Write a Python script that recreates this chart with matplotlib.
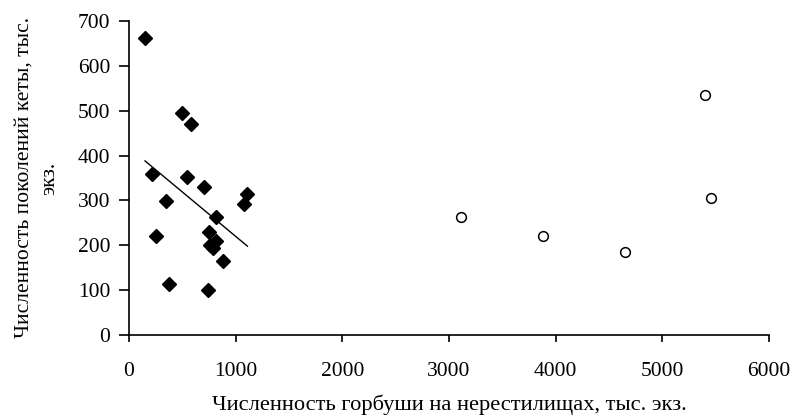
import numpy as np
import matplotlib.pyplot as plt

plt.rcParams['font.family'] = ['Liberation Serif', 'DejaVu Serif']

# pink salmon on spawning grounds vs chum generation size
x_fill = [150, 493, 577, 218, 545, 701, 1110, 1082, 346, 820,
          752, 755, 785, 820, 252, 882, 371, 736]
y_fill = [663, 494, 471, 358, 352, 329, 314, 291, 298, 262,
          229, 200, 195, 210, 221, 165, 113, 101]

x_open = [3115, 3880, 4647, 5401, 5457]
y_open = [262, 221, 184, 534, 305]

# trend line endpoints
x_trend = [150, 1110]
y_trend = [388, 198]

fig = plt.figure(figsize=(7.95, 4.16), dpi=100)
ax = fig.add_axes([0.1623, 0.1947, 0.805, 0.755])

ax.plot(x_fill, y_fill, ls='none', marker='D', ms=7.5, c='black')
ax.plot(x_open, y_open, ls='none', marker='o', ms=7, mfc='white',
        mec='black', mew=1.1)
ax.plot(x_trend, y_trend, c='black', lw=1)

ax.set_xlim(0, 6000)
ax.set_ylim(0, 700)
ax.set_xticks(range(0, 6001, 1000))
ax.set_yticks(range(0, 701, 100))
for s in ['top', 'right']:
    ax.spines[s].set_visible(False)
for s in ['left', 'bottom']:
    ax.spines[s].set_linewidth(1.2)
ax.tick_params(direction='out', width=1.2, labelsize=15.5)
ax.tick_params(axis='x', length=5, pad=14.5)
ax.tick_params(axis='y', length=7, pad=6.5)

ax.set_xlabel('Численность горбуши на нерестилищах, тыс. экз.', fontsize=16.2,
              labelpad=10)
ax.set_ylabel('Численность поколений кеты, тыс.\nэкз.', fontsize=15.5,
              labelpad=13, linespacing=1.5)

plt.savefig('out.png')
